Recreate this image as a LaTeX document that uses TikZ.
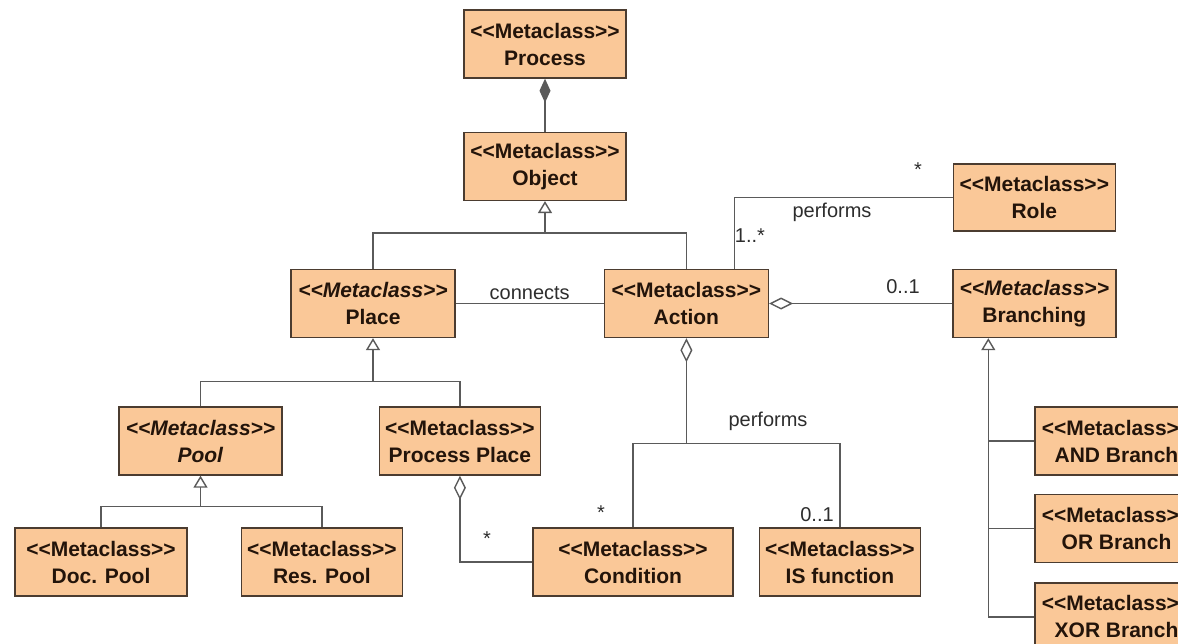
\documentclass[tikz,border=0pt]{standalone}
\usepackage{fontspec}
\setmainfont{Liberation Sans}
\usetikzlibrary{positioning,arrows.meta}

\definecolor{classfill}{RGB}{250,200,152}
\definecolor{classline}{RGB}{75,60,48}
\definecolor{classtext}{RGB}{35,20,10}
\definecolor{linkline}{RGB}{90,90,90}
\definecolor{lbltext}{RGB}{45,45,45}
\newcommand{\stereo}{<\kern0pt<Metaclass>\kern0pt>}
\newcommand{\istereo}{\textit{\stereo}}

\begin{document}
\begin{tikzpicture}[
  x=1pt, y=-1pt,
  node distance=50pt,
  cls/.style={draw=classline, line width=1.4pt, fill=classfill, text=classtext,
              align=center, font=\fontsize{21}{27}\selectfont\bfseries,
              minimum width=162pt, minimum height=68pt, inner sep=0pt},
  link/.style={draw=linkline, line width=1.4pt},
  gen/.style={link, -{Triangle[open, length=12pt, width=14pt, fill=white]}},
  agg/.style={link, {Diamond[open, length=24pt, width=12pt, fill=white]}-},
  comp/.style={link, {Diamond[length=24pt, width=11pt]}-},
  lbl/.style={text=lbltext, font=\fontsize{20}{24}\selectfont, inner sep=1pt}
]
\path[use as bounding box, clip] (0,0) rectangle (1178,643);

% classes
\node[cls] (process) at (545,44) {\stereo\\Process};
\node[cls, below=53pt of process] (object) {\stereo\\Object};
\node[cls, minimum width=164pt] (place) at (373,303.5) {\istereo\\Place};
\node[cls, minimum width=164pt, right=148pt of place] (action) {\stereo\\Action};
\node[cls, minimum width=163pt, right=183pt of action] (branching) {\istereo\\Branching};
\node[cls, minimum height=67pt, above=37pt of branching] (role) {\stereo\\Role};
\node[cls, minimum width=163pt] (pool) at (200.5,441) {\istereo\\\textit{Pool}};
\node[cls, minimum width=161pt, right=96pt of pool] (pplace) {\stereo\\Process Place};
\node[cls, minimum width=172pt] (docpool) at (101,562) {\stereo\\Doc. Pool};
\node[cls, minimum width=161pt, right=53pt of docpool] (respool) {\stereo\\Res. Pool};
\node[cls, minimum width=200pt] (condition) at (633,562) {\stereo\\Condition};
\node[cls, minimum width=161pt, right=25pt of condition] (isfun) {\stereo\\IS function};
\node[cls, minimum width=163pt] (andb) at (1116.5,441) {\stereo\\AND Branch};
\node[cls, minimum width=163pt, below=18pt of andb] (orb) {\stereo\\OR Branch};
\node[cls, minimum width=163pt, below=19pt of orb] (xorb) {\stereo\\XOR Branch};

% bus points
\coordinate[below=32pt of object] (objbus);
\coordinate[below=43pt of place] (placebus);
\coordinate[below=31pt of pool] (poolbus);
\coordinate[below=105pt of action] (perfbus);
\coordinate (acttop) at ([xshift=48pt]action.north);
\coordinate (brtop) at ([xshift=-46pt]branching.south);

% connectors
\draw[comp] (process.south) -- (object.north);
\draw[gen] (objbus) -- (object.south);
\draw[link] (place.north) |- (objbus) -| (action.north);
\draw[link] (acttop) |- (role.west);
\draw[link] (place.east) -- node[lbl, above=2pt] (connlbl) {connects} (action.west);
\draw[agg] (action.east) -- (branching.west);
\draw[agg] (action.south) -- (perfbus);
\draw[link] (condition.north) |- (perfbus) -| (isfun.north);
\draw[gen] (placebus) -- (place.south);
\draw[link] (pool.north) |- (placebus) -| (pplace.north);
\draw[gen] (poolbus) -- (pool.south);
\draw[link] (docpool.north) |- (poolbus) -| (respool.north);
\draw[agg] (pplace.south) |- (condition.west);
\draw[gen] (xorb.west) -| (brtop);
\draw[link] (andb.west) -- (andb.west -| brtop);
\draw[link] (orb.west) -- (orb.west -| brtop);

% labels
\node[lbl] (perfrole) at (832,212) {performs};
\node[lbl] (rolemult) at (918,170) {*};
\node[lbl] (actmult) at (750,236) {1..*};
\node[lbl] (brmult) at (903,287) {0..1};
\node[lbl] (perfcond) at (768,421) {performs};
\node[lbl] (condmult) at (601,513) {*};
\node[lbl] (ismult) at (817,515) {0..1};
\node[lbl] (ppmult) at (487,539) {*};
\end{tikzpicture}
\end{document}
